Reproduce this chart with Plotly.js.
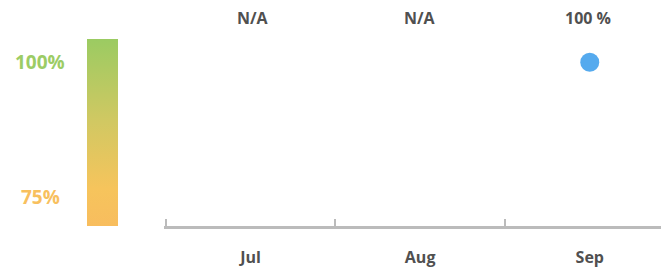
<!DOCTYPE html>
<html>
<head>
<meta charset="utf-8">
<script src="https://cdn.plot.ly/plotly-3.0.1.min.js"></script>
<style>html,body{margin:0;padding:0;background:#fff;}#chart{width:661px;height:269px;}</style>
</head>
<body>
<div id="chart"></div>
<script>
// Data
var months = ["Jul", "Aug", "Sep"];
var values = [null, null, 100];
var scaleTicks = [100, 75];
var scaleLabels = ["100%", "75%"];
var gaugeMin = 69.6;
var gaugeMax = 104.3;

var topLabels = values.map(function (v) { return v === null ? "N/A" : v + " %"; });

var font = "Open Sans, Segoe UI, sans-serif";

var traces = [
  {
    type: "scatter",
    x: [0, 1, 1, 0, 0],
    y: [gaugeMin, gaugeMin, gaugeMax, gaugeMax, gaugeMin],
    xaxis: "x2",
    yaxis: "y",
    mode: "lines",
    line: { width: 0 },
    fill: "toself",
    fillgradient: {
      type: "vertical",
      colorscale: [[0, "#f8bd5e"], [0.2, "#f6c45c"], [0.55, "#d2c862"], [1, "#9bcb62"]]
    },
    hoverinfo: "skip",
    showlegend: false
  },
  {
    type: "scatter",
    x: months,
    y: values,
    mode: "markers",
    marker: { color: "#55aaee", size: 19 },
    showlegend: false
  }
];

var annotations = [];
months.forEach(function (m, i) {
  annotations.push({
    x: m, xref: "x", xshift: i === 0 ? 2 : (i === 2 ? -2 : 0),
    y: 1 - 18 / 269, yref: "paper",
    text: "<b>" + topLabels[i] + "</b>", showarrow: false,
    font: { family: font, size: 16, color: "#505050" },
    xanchor: "center", yanchor: "middle"
  });
});
var labelColors = ["#9ccc65", "#f8c05e"];
scaleTicks.forEach(function (t, i) {
  annotations.push({
    x: 40 / 661, xref: "paper", y: t, yref: "y",
    text: "<b>" + scaleLabels[i] + "</b>", showarrow: false,
    font: { family: font, size: 19, color: labelColors[i] },
    xanchor: "center", yanchor: "middle"
  });
});

var layout = {
  width: 661, height: 269,
  margin: { l: 0, r: 0, t: 0, b: 0 },
  paper_bgcolor: "#ffffff",
  plot_bgcolor: "#ffffff",
  showlegend: false,
  xaxis: {
    domain: [164 / 661, 1],
    type: "category",
    range: [-0.51, 2.42],
    showgrid: false,
    zeroline: false,
    showline: true,
    linecolor: "#bbbbbb",
    linewidth: 3,
    ticks: "inside",
    tickson: "boundaries",
    ticklen: 7,
    tickwidth: 2,
    tickcolor: "#bbbbbb",
    ticklabelstandoff: 15,
    tickfont: { family: font, size: 16, color: "#505050", weight: "bold" }
  },
  xaxis2: {
    domain: [87 / 661, 118 / 661],
    range: [0, 1],
    anchor: "y",
    visible: false,
    fixedrange: true
  },
  yaxis: {
    domain: [43 / 269, 230 / 269],
    range: [gaugeMin, gaugeMax],
    visible: false,
    showgrid: false,
    zeroline: false
  },
  annotations: annotations
};

Plotly.newPlot("chart", traces, layout, { displayModeBar: false, staticPlot: true });
</script>
</body>
</html>
